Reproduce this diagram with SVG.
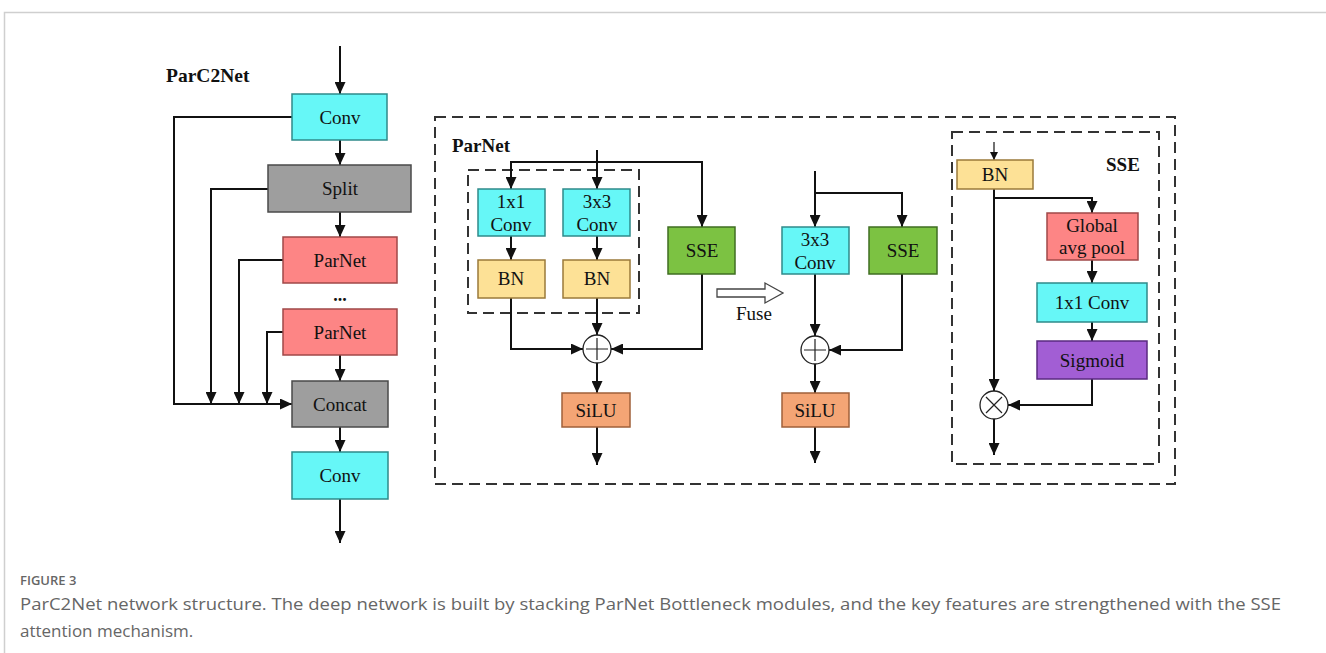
<svg xmlns="http://www.w3.org/2000/svg" width="1326" height="653" viewBox="0 0 1326 653">
<style>
.box{stroke-width:1.5}
.cy{fill:#66f7f7;stroke:#2f8a8a}
.gr{fill:#9e9e9e;stroke:#4a4a4a}
.pk{fill:#fd8585;stroke:#a04848}
.bn{fill:#fde196;stroke:#9a7a3a}
.gn{fill:#7cc242;stroke:#3f6e22}
.or{fill:#f4a575;stroke:#a0603a}
.pu{fill:#a25ed4;stroke:#5a2a80}
.t{font-family:"Liberation Serif",serif;font-size:19px;fill:#111;text-anchor:middle}
.tb{font-family:"Liberation Serif",serif;font-weight:bold;fill:#111}
.ln{fill:none;stroke:#111;stroke-width:2}
.dash{fill:none;stroke:#333;stroke-width:2;stroke-dasharray:11 6}
.cap{font-family:"Open Sans","Noto Sans",sans-serif;fill:#666}
</style>
<defs>
<marker id="ah" markerUnits="userSpaceOnUse" markerWidth="12" markerHeight="11" refX="12" refY="5.5" orient="auto">
<path d="M0,0 L12,5.5 L0,11 z" fill="#111"/>
</marker>
<marker id="ahs" markerUnits="userSpaceOnUse" markerWidth="8" markerHeight="8" refX="8" refY="4" orient="auto">
<path d="M0,0 L8,4 L0,8 z" fill="#111"/>
</marker>
</defs>
<rect width="1326" height="653" fill="#fff"/>
<path d="M4.5,653 V12.5 H1326" fill="none" stroke="#cfcfcf" stroke-width="1.5"/>

<!-- dashed containers -->
<g id="parnet-frame">
<rect x="435" y="117" width="740" height="367" class="dash"/>
<text x="452" y="152" class="tb" font-size="19">ParNet</text>
<rect x="468" y="170" width="171" height="143" class="dash" stroke-width="1.5"/>
</g>
<g id="sse-frame">
<rect x="952" y="132" width="207" height="332" class="dash"/>
<text x="1106" y="171" class="tb" font-size="19">SSE</text>
</g>

<!-- connectors -->
<g id="connectors">
<path class="ln" d="M340,46 V94" marker-end="url(#ah)"/>
<path class="ln" d="M340,140 V165" marker-end="url(#ah)"/>
<path class="ln" d="M340,212 V237" marker-end="url(#ah)"/>
<path class="ln" d="M340,355 V381" marker-end="url(#ah)"/>
<path class="ln" d="M340,427 V452" marker-end="url(#ah)"/>
<path class="ln" d="M340,499 V543" marker-end="url(#ah)"/>
<path class="ln" d="M292,117 H174 V404 H292" marker-end="url(#ah)"/>
<path class="ln" d="M268,189 H211 V404" marker-end="url(#ah)"/>
<path class="ln" d="M283,260 H239 V404" marker-end="url(#ah)"/>
<path class="ln" d="M283,332 H267 V404" marker-end="url(#ah)"/>
<path class="ln" d="M597,150 V189" marker-end="url(#ah)"/>
<path class="ln" d="M511,189 V162 H702 V227" marker-end="url(#ah)"/>
<path class="ln" d="M511,162 V189" marker-end="url(#ah)"/>
<path class="ln" d="M511,236 V260" marker-end="url(#ah)"/>
<path class="ln" d="M597,236 V260" marker-end="url(#ah)"/>
<path class="ln" d="M511,298 V349 H583" marker-end="url(#ah)"/>
<path class="ln" d="M597,298 V335" marker-end="url(#ah)"/>
<path class="ln" d="M702,274 V349 H611" marker-end="url(#ah)"/>
<path class="ln" d="M597,363 V393" marker-end="url(#ah)"/>
<path class="ln" d="M597,427 V465" marker-end="url(#ah)"/>
<path class="ln" d="M815,171 V227" marker-end="url(#ah)"/>
<path class="ln" d="M815,193 H902 V227" marker-end="url(#ah)"/>
<path class="ln" d="M815,274 V336" marker-end="url(#ah)"/>
<path class="ln" d="M902,274 V350 H829" marker-end="url(#ah)"/>
<path class="ln" d="M815,364 V393" marker-end="url(#ah)"/>
<path class="ln" d="M815,427 V463" marker-end="url(#ah)"/>
<path d="M994,142 V160" stroke="#111" stroke-width="1.2" fill="none" marker-end="url(#ahs)"/>
<path class="ln" d="M994,189 V391" marker-end="url(#ah)"/>
<path class="ln" d="M994,198 H1092 V213" marker-end="url(#ah)"/>
<path class="ln" d="M1092,260 V283" marker-end="url(#ah)"/>
<path class="ln" d="M1092,322 V341" marker-end="url(#ah)"/>
<path class="ln" d="M1092,379 V405 H1008" marker-end="url(#ah)"/>
<path class="ln" d="M994,419 V455" marker-end="url(#ah)"/>
</g>

<g id="title"><text x="166" y="82" class="tb" font-size="19.5">ParC2Net</text></g>
<g id="conv1"><rect x="292" y="94" width="95" height="46" class="box cy"/><text x="340" y="124" class="t">Conv</text></g>
<g id="split"><rect x="268" y="165" width="143" height="47" class="box gr"/><text x="340" y="195" class="t">Split</text></g>
<g id="parnet1"><rect x="283" y="237" width="114" height="46" class="box pk"/><text x="340" y="267" class="t">ParNet</text></g>
<g id="dots"><text x="340" y="301" class="tb" font-size="18" text-anchor="middle">...</text></g>
<g id="parnet2"><rect x="283" y="309" width="114" height="46" class="box pk"/><text x="340" y="339" class="t">ParNet</text></g>
<g id="concat"><rect x="292" y="381" width="96" height="46" class="box gr"/><text x="340" y="411" class="t">Concat</text></g>
<g id="conv2"><rect x="292" y="452" width="96" height="47" class="box cy"/><text x="340" y="482" class="t">Conv</text></g>

<g id="conv1x1"><rect x="478" y="189" width="67" height="47" class="box cy"/><text x="511" y="208" class="t">1x1</text><text x="511" y="231" class="t">Conv</text></g>
<g id="conv3x3"><rect x="563" y="189" width="67" height="47" class="box cy"/><text x="597" y="208" class="t">3x3</text><text x="597" y="231" class="t">Conv</text></g>
<g id="bn1"><rect x="478" y="260" width="67" height="38" class="box bn"/><text x="511" y="285" class="t">BN</text></g>
<g id="bn2"><rect x="563" y="260" width="67" height="38" class="box bn"/><text x="597" y="285" class="t">BN</text></g>
<g id="sse1"><rect x="668" y="227" width="67" height="47" class="box gn"/><text x="702" y="257" class="t">SSE</text></g>
<g id="add1"><circle cx="597" cy="349" r="14" fill="#fff" stroke="#222" stroke-width="1.3"/><path d="M586,349 H608 M597,338 V360" stroke="#222" stroke-width="1.2"/></g>
<g id="silu1"><rect x="562" y="393" width="68" height="34" class="box or"/><text x="596" y="417" class="t">SiLU</text></g>

<g id="fuse"><path d="M717,289 H765 V283 L783,293 L765,303 V297 H717 Z" fill="#fff" stroke="#444" stroke-width="1.3"/><text x="754" y="320" class="t" font-size="18">Fuse</text></g>

<g id="conv3x3b"><rect x="782" y="227" width="67" height="47" class="box cy"/><text x="815" y="246" class="t">3x3</text><text x="815" y="269" class="t">Conv</text></g>
<g id="sse2"><rect x="869" y="227" width="68" height="47" class="box gn"/><text x="903" y="257" class="t">SSE</text></g>
<g id="add2"><circle cx="815" cy="350" r="14" fill="#fff" stroke="#222" stroke-width="1.3"/><path d="M804,350 H826 M815,339 V361" stroke="#222" stroke-width="1.2"/></g>
<g id="silu2"><rect x="782" y="393" width="67" height="34" class="box or"/><text x="815" y="417" class="t">SiLU</text></g>

<g id="bn3"><rect x="957" y="160" width="76" height="29" class="box bn"/><text x="995" y="181" class="t">BN</text></g>
<g id="gap"><rect x="1047" y="213" width="91" height="47" class="box pk"/><text x="1092" y="232" class="t">Global</text><text x="1092" y="254" class="t">avg pool</text></g>
<g id="conv1x1b"><rect x="1037" y="283" width="110" height="39" class="box cy"/><text x="1092" y="309" class="t">1x1 Conv</text></g>
<g id="sigmoid"><rect x="1037" y="341" width="110" height="38" class="box pu"/><text x="1092" y="367" class="t">Sigmoid</text></g>
<g id="mul"><circle cx="994" cy="405" r="14" fill="#fff" stroke="#222" stroke-width="1.3"/><path d="M986,397 L1002,413 M1002,397 L986,413" stroke="#222" stroke-width="1.2"/></g>

<g id="caption">
<text x="20" y="585" class="cap" font-size="13" font-weight="600" fill="#777">FIGURE 3</text>
<text x="20" y="610" class="cap" font-size="17" textLength="1261" lengthAdjust="spacingAndGlyphs">ParC2Net network structure. The deep network is built by stacking ParNet Bottleneck modules, and the key features are strengthened with the SSE</text>
<text x="20" y="637" class="cap" font-size="17">attention mechanism.</text>
</g>
</svg>
